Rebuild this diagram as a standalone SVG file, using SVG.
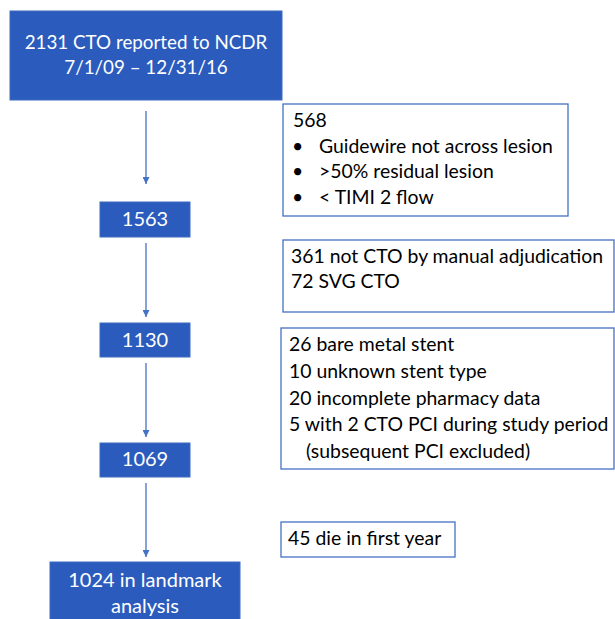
<svg xmlns="http://www.w3.org/2000/svg" width="615" height="619" viewBox="0 0 615 619">
  <style>
    .step rect { fill: #2B5CBD; stroke: #3F6AC2; stroke-width: 1; }
    .step text { fill: #FFFFFF; font-family: Lato, "Liberation Sans", sans-serif; font-size: 20px; text-anchor: middle; }
    #total text { font-size: 18.8px; }
    .note rect { fill: #FFFFFF; stroke: #4472C4; stroke-width: 1.3; }
    .note text { fill: #000000; font-family: Lato, "Liberation Sans", sans-serif; font-size: 19.4px; }
    .conn line { stroke: #4472C4; stroke-width: 1.3; marker-end: url(#head); }
  </style>
  <defs>
    <marker id="head" viewBox="0 0 10 10" refX="10" refY="5" markerWidth="7" markerHeight="7" markerUnits="userSpaceOnUse" orient="auto">
      <path d="M0,0 L10,5 L0,10 z" fill="#4472C4"/>
    </marker>
  </defs>

  <rect width="615" height="619" fill="#FFFFFF"/>

  <g class="conn">
    <line x1="146" y1="111" x2="146" y2="184"/>
    <line x1="146" y1="243" x2="146" y2="317"/>
    <line x1="146" y1="363" x2="146" y2="437"/>
    <line x1="146" y1="483" x2="146" y2="557"/>
  </g>

  <g id="total" class="step">
    <rect x="10" y="11" width="272" height="89"/>
    <text x="146" y="49">2131 CTO reported to NCDR</text>
    <text x="146" y="74">7/1/09 – 12/31/16</text>
  </g>

  <g id="after-crossing" class="step">
    <rect x="100" y="202" width="90" height="35"/>
    <text x="145" y="226">1563</text>
  </g>

  <g id="after-adjudication" class="step">
    <rect x="100" y="323" width="90" height="34"/>
    <text x="145" y="347">1130</text>
  </g>

  <g id="after-stent" class="step">
    <rect x="100" y="443" width="90" height="34"/>
    <text x="145" y="466">1069</text>
  </g>

  <g id="landmark" class="step">
    <rect x="50" y="562" width="190" height="70"/>
    <text x="145" y="587">1024 in landmark</text>
    <text x="145" y="613">analysis</text>
  </g>

  <g id="excl-procedure" class="note">
    <rect x="283" y="104" width="285" height="112"/>
    <text x="293" y="127">568</text>
    <text x="292" y="153">•</text>
    <text x="319" y="153">Guidewire not across lesion</text>
    <text x="292" y="178">•</text>
    <text x="319" y="178">&gt;50% residual lesion</text>
    <text x="292" y="204">•</text>
    <text x="319" y="204">&lt; TIMI 2 flow</text>
  </g>

  <g id="excl-adjudication" class="note">
    <rect x="283" y="240" width="331" height="72"/>
    <text x="291" y="263">361 not CTO by manual adjudication</text>
    <text x="291" y="288">72 SVG CTO</text>
  </g>

  <g id="excl-stent" class="note">
    <rect x="281" y="328" width="333" height="141"/>
    <text x="289" y="351">26 bare metal stent</text>
    <text x="289" y="378">10 unknown stent type</text>
    <text x="289" y="405">20 incomplete pharmacy data</text>
    <text x="289" y="431">5 with 2 CTO PCI during study period</text>
    <text x="306" y="458">(subsequent PCI excluded)</text>
  </g>

  <g id="excl-death" class="note">
    <rect x="281" y="522" width="174" height="35"/>
    <text x="288" y="545">45 die in first year</text>
  </g>
</svg>
